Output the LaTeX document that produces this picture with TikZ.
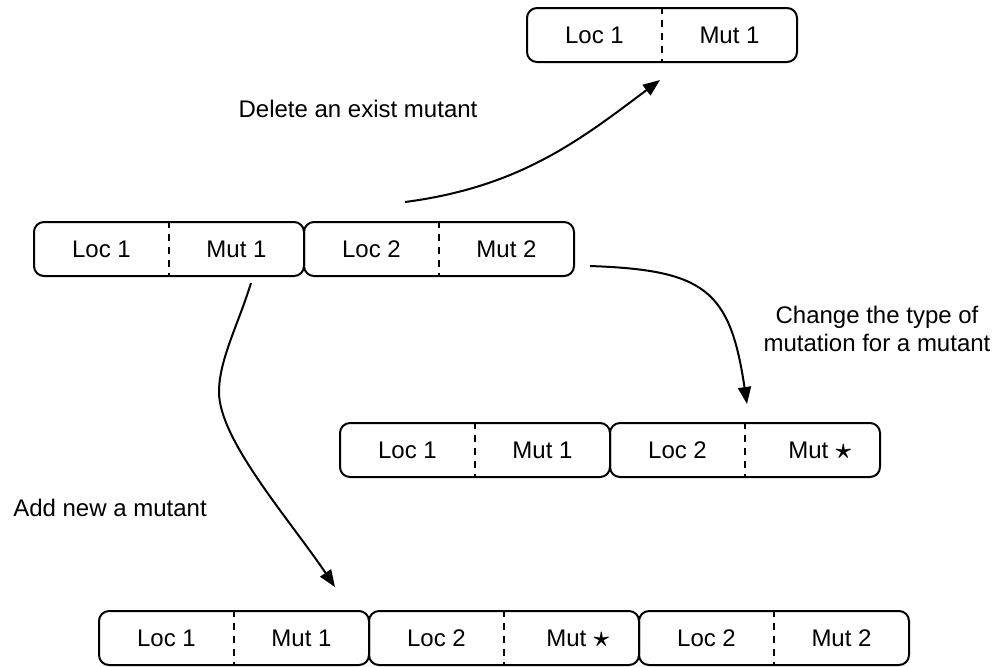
\documentclass[tikz,border=0pt]{standalone}
\usepackage{fontspec}
\setmainfont{Liberation Sans}
\usetikzlibrary{arrows.meta}

\tikzset{every picture/.style={line width=1pt}}
\tikzset{
  cell/.style={draw, rounded corners=5pt, minimum width=135pt, minimum height=27pt, inner sep=0pt},
  divider/.style={dash pattern=on 3.5pt off 3pt},
  lbl/.style={inner sep=0.75pt, font=\fontsize{12}{14}\selectfont, text height=8.6pt, text depth=0pt},
  txt/.style={inner sep=0.75pt, font=\fontsize{12}{14}\selectfont, align=center},
  arr/.style={-{Triangle[length=8.5pt,width=6.5pt]}}
}
\newcommand{\mutstar}{{\fontsize{14.5}{14.5}\selectfont\boldmath$\star$}}

\begin{document}
\begin{tikzpicture}[x=0.5pt,y=0.5pt,yscale=-1]
\useasboundingbox (0,0) rectangle (1000,666);

%Rounded Rect, top
\node[cell] (top1) at (662,35) {};
\draw[divider] (top1.north) -- (top1.south);
%Rounded Rect, middle
\node[cell] (mid1) at (169,249) {};
\draw[divider] (mid1.north) -- (mid1.south);
\node[cell] (mid2) at (439,249) {};
\draw[divider] (mid2.north) -- (mid2.south);
%Rounded Rect, right
\node[cell] (rgt1) at (475,450) {};
\draw[divider] (rgt1.north) -- (rgt1.south);
\node[cell] (rgt2) at (745,450) {};
\draw[divider] (rgt2.north) -- (rgt2.south);
%Rounded Rect, bottom
\node[cell] (bot1) at (234,638) {};
\draw[divider] (bot1.north) -- (bot1.south);
\node[cell] (bot2) at (504,638) {};
\draw[divider] (bot2.north) -- (bot2.south);
\node[cell] (bot3) at (774,638) {};
\draw[divider] (bot3.north) -- (bot3.south);

% Text Node
\node[lbl] (top1loc) at (594.5,35) {Loc 1};
\node[lbl] (top1mut) at (729.5,35) {Mut 1};
% Text Node
\node[lbl] (mid1loc) at (101.5,249) {Loc 1};
\node[lbl] (mid1mut) at (236.5,249) {Mut 1};
\node[lbl] (mid2loc) at (371.5,249) {Loc 2};
\node[lbl] (mid2mut) at (506.5,249) {Mut 2};
% Text Node
\node[lbl] (rgt1loc) at (407.5,450) {Loc 1};
\node[lbl] (rgt1mut) at (542.5,450) {Mut 1};
\node[lbl] (rgt2loc) at (677.5,450) {Loc 2};
\node[lbl] (rgt2mut) at (820,450) {Mut \mutstar};
% Text Node
\node[lbl] (bot1loc) at (166.5,638) {Loc 1};
\node[lbl] (bot1mut) at (301.5,638) {Mut 1};
\node[lbl] (bot2loc) at (436.5,638) {Loc 2};
\node[lbl] (bot2mut) at (578,638) {Mut \mutstar};
\node[lbl] (bot3loc) at (706.5,638) {Loc 2};
\node[lbl] (bot3mut) at (841.5,638) {Mut 2};

% Text Node
\node[lbl] (dellbl) at (358,109) {Delete an exist mutant};
\node[txt] (chglbl) at (877,329) {Change the type of\\mutation for a mutant};
\node[lbl] (addlbl) at (110,508) {Add new a mutant};

%Curve Lines
\coordinate (delA) at (405,202);
\coordinate (delB) at (660,80);
\draw[arr] (delA) .. controls (520,187) and (580,140) .. (delB);
%Curve Lines
\coordinate (chgA) at (590,266);
\coordinate (chgB) at (747,404);
\draw[arr] (chgA) .. controls (705,270) and (730,290) .. (chgB);
%Curve Lines
\coordinate (addA) at (251,283);
\coordinate (addM) at (219,392);
\coordinate (addB) at (335,587);
\draw[arr] (addA) .. controls (238,325) and (219,360) .. (addM) .. controls (219,440) and (290,520) .. (addB);

\end{tikzpicture}
\end{document}
